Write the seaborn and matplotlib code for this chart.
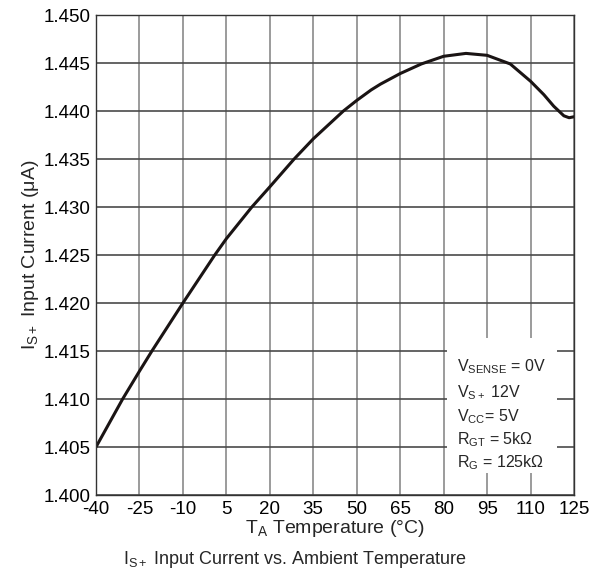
import matplotlib
matplotlib.use("Agg")
import matplotlib.pyplot as plt
import seaborn as sns
import pandas as pd

temperature = [-40, -30.8, -25, -20.7, -10, 1, 5, 13.8, 20, 28.4, 35, 45.4, 50, 55, 58.2,
               65, 72.3, 80, 87.7, 95, 103, 110, 114.6, 118, 121.5, 123.3, 125]
current = [1.4050, 1.4100, 1.4129, 1.4150, 1.4200, 1.4250, 1.4267, 1.4300, 1.4321, 1.4350,
           1.4371, 1.4400, 1.4411, 1.4422, 1.4428, 1.4439, 1.4449, 1.4457, 1.4460, 1.4458,
           1.4449, 1.4431, 1.4417, 1.4405, 1.4395, 1.4393, 1.4394]
x_ticks = list(range(-40, 126, 15))
y_ticks = [1.400, 1.405, 1.410, 1.415, 1.420, 1.425, 1.430, 1.435, 1.440, 1.445, 1.450]
conditions = [r"$\mathregular{V_{SENSE}}$ = 0V",
              r"$\mathregular{V_{S+}}$ 12V",
              r"$\mathregular{V_{CC}}$= 5V",
              r"$\mathregular{R_{GT}}$ = 5k$\mathregular{\Omega}$",
              r"$\mathregular{R_G}$ = 125k$\mathregular{\Omega}$"]

sns.set_style("white")
plt.rcParams['font.family'] = ['Liberation Sans', 'DejaVu Sans']
plt.rcParams['mathtext.fontset'] = 'custom'
plt.rcParams['mathtext.rm'] = 'Liberation Sans'
plt.rcParams['mathtext.it'] = 'Liberation Sans'

df = pd.DataFrame({"T": temperature, "I": current})

fig = plt.figure(figsize=(5.9, 5.71), dpi=100)
ax = fig.add_axes([96/590, 1-495/571, (574-96)/590, (495-15)/571])

sns.lineplot(data=df, x="T", y="I", ax=ax, color="#1a1414", linewidth=2.2, sort=False)
ax.lines[0].set_solid_joinstyle("round")

ax.set_xlim(-40, 125)
ax.set_ylim(1.400, 1.450)
ax.set_xticks(x_ticks)
ax.set_yticks(y_ticks)
ax.set_xticklabels([str(t) for t in x_ticks], fontsize=13.5)
ax.set_yticklabels([f"{v:.3f}" for v in y_ticks], fontsize=13.5)
for v in x_ticks:
    ax.axvline(v, color="#8a8a8a", linewidth=1.2, zorder=0)
for v in y_ticks:
    ax.axhline(v, color="#4a4a4a", linewidth=1.2, zorder=0)
for s in ax.spines.values():
    s.set_color("#333333")
    s.set_linewidth(1.0)
ax.tick_params(axis="both", direction="out", length=3, width=1, color="#333333",
               pad=1, labelcolor="black")

ax.set_xlabel(r"T$\mathregular{_A}$ Temperature (°C)", fontsize=14, labelpad=0)
ax.set_ylabel(r"I$\mathregular{_{S+}}$ Input Current ($\mathregular{\mu}$A)", fontsize=14, labelpad=2)

# condition box
box = plt.Rectangle((447/590, 1-473/571), (557-447)/590, (473-338)/571,
                    transform=fig.transFigure, facecolor="white", edgecolor="none", zorder=3)
fig.add_artist(box)
ys = [367, 393, 417, 440, 463]
for t, yp in zip(conditions, ys):
    fig.text(457/590, 1-yp/571, t, fontsize=11.5, va="center", ha="left", zorder=4)

fig.text(295/590, 1-560/571, r"I$\mathregular{_{S+}}$ Input Current vs. Ambient Temperature",
         fontsize=13, ha="center", va="center")

fig.savefig("out.png", dpi=100)
